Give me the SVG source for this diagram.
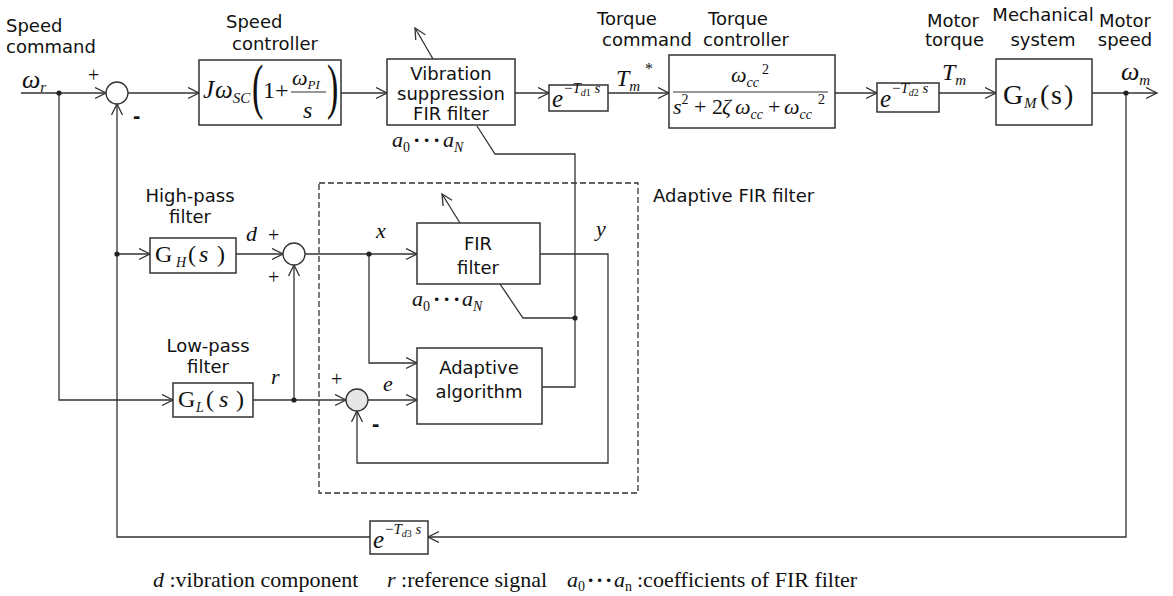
<svg xmlns="http://www.w3.org/2000/svg" width="1173" height="596" viewBox="0 0 1173 596">
<defs>
<style>
.box{fill:#fff;stroke:#333;stroke-width:1.5}
.ln{fill:none;stroke:#333;stroke-width:1.3}
.arr{marker-end:url(#ah)}
.dot{fill:#222}
.lbl{font-family:"DejaVu Sans",sans-serif;font-size:18px;fill:#111}
.c{text-anchor:middle}
.m{font-family:"Liberation Serif",serif;font-style:italic;fill:#111}
.r{font-family:"Liberation Serif",serif;font-style:normal;fill:#111}
.b{font-weight:bold;font-style:normal}
.sg{font-family:"Liberation Sans",sans-serif;font-weight:bold;font-size:22px;fill:#111}
</style>
<marker id="ah" markerWidth="14" markerHeight="14" refX="11" refY="6" orient="auto" markerUnits="userSpaceOnUse">
<path d="M0,0.5 L11,6 L0,11.5" fill="none" stroke="#333" stroke-width="1.3"/>
</marker>
</defs>
<rect width="1173" height="596" fill="#fff"/>

<g id="connectors">
<path class="ln arr" d="M21,93 H106"/>
<path class="ln arr" d="M128,93 H199"/>
<path class="ln arr" d="M341,93 H387"/>
<path class="ln arr" d="M515,93 H549"/>
<path class="ln arr" d="M608,93 H669"/>
<path class="ln arr" d="M835,93 H877"/>
<path class="ln arr" d="M939,93 H996"/>
<path class="ln arr" d="M1092,93 H1157"/>
<path class="ln arr" d="M1126,93 V537 H428"/>
<path class="ln arr" d="M370,537 H117 V104"/>
<path class="ln arr" d="M117,254 H150"/>
<path class="ln arr" d="M236,254 H283"/>
<path class="ln arr" d="M305,254 H417"/>
<path class="ln arr" d="M369,254 V363 H417"/>
<path class="ln arr" d="M59,93 V400 H173"/>
<path class="ln arr" d="M253,400 H346"/>
<path class="ln arr" d="M294,400 V265"/>
<path class="ln arr" d="M368,400 H417"/>
<path class="ln arr" d="M540,254 H608 V463 H357 V411"/>
<path class="ln" d="M542,387 H575 V154 H495 L477,126"/>
<path class="ln" d="M575,318 H523 L500,284"/>
<path class="ln arr" d="M433,59 L415,28"/>
<path class="ln arr" d="M460,223 L442,194"/>
<circle class="dot" cx="59" cy="93" r="2.6"/>
<circle class="dot" cx="1126" cy="93" r="2.6"/>
<circle class="dot" cx="117" cy="254" r="2.6"/>
<circle class="dot" cx="369" cy="254" r="2.6"/>
<circle class="dot" cx="294" cy="400" r="2.6"/>
<circle class="dot" cx="575" cy="318" r="2.6"/>
</g>

<g id="adaptive-frame">
<rect x="319" y="183" width="319" height="310" fill="none" stroke="#333" stroke-width="1.3" stroke-dasharray="6,3"/>
<text class="lbl" x="653" y="202">Adaptive FIR filter</text>
</g>

<g id="input">
<text class="lbl" x="6" y="32">Speed</text>
<text class="lbl" x="6" y="53">command</text>
<text class="m" x="22" y="88" font-size="26">ω<tspan font-size="15" dy="4">r</tspan></text>
</g>

<g id="sum1">
<circle cx="117" cy="93" r="11" fill="#fff" stroke="#333" stroke-width="1.3"/>
<text class="r" x="88" y="82" font-size="20">+</text>
<text class="sg" x="133" y="123">-</text>
</g>

<g id="speed-controller">
<text class="lbl" x="226" y="28">Speed</text>
<text class="lbl" x="232" y="50">controller</text>
<rect class="box" x="199" y="60" width="142" height="65"/>
<text class="m" x="203" y="98" font-size="25">J</text>
<text class="m" x="215" y="98" font-size="25">ω<tspan font-size="15" dy="5">SC</tspan></text>
<text class="r" font-size="34" transform="translate(252,107) scale(1,1.8)">(</text>
<text class="r" x="263" y="98" font-size="24">1</text>
<text class="r" x="275" y="98" font-size="24">+</text>
<text class="m" x="292" y="85" font-size="22">ω<tspan font-size="13" dy="4">PI</tspan></text>
<line x1="291" y1="92" x2="326" y2="92" stroke="#333" stroke-width="1.2"/>
<text class="m" x="303" y="118" font-size="24">s</text>
<text class="r" font-size="34" transform="translate(327,107) scale(1,1.8)">)</text>
</g>

<g id="vibration-filter">
<rect class="box" x="387" y="59" width="128" height="66"/>
<text class="lbl c" x="451" y="80" font-size="17">Vibration</text>
<text class="lbl c" x="451" y="100" font-size="17">suppression</text>
<text class="lbl c" x="451" y="120" font-size="17">FIR filter</text>
<text class="m" x="392" y="147" font-size="22">a<tspan class="r" font-size="14" dy="5">0</tspan><tspan class="r b" dy="-5" x="413">·</tspan><tspan class="r b" x="423">·</tspan><tspan class="r b" x="433">·</tspan><tspan x="443">a</tspan><tspan font-size="14" dy="5">N</tspan></text>
</g>

<g id="delay1">
<rect class="box" x="549" y="85" width="59" height="26"/>
<text class="m" x="552" y="107" font-size="25">e</text>
<text class="m" x="564" y="93" font-size="15"><tspan class="r">−</tspan>T<tspan font-size="10" dy="3">d</tspan><tspan class="r" font-size="10">1</tspan><tspan dy="-3"> s</tspan></text>
</g>

<g id="torque-command">
<text class="lbl" x="597" y="25">Torque</text>
<text class="lbl" x="602" y="46">command</text>
<text class="m" x="616" y="86" font-size="24">T<tspan font-size="15" dy="5">m</tspan></text>
<text class="r" x="645" y="74" font-size="16">*</text>
</g>

<g id="torque-controller">
<text class="lbl" x="708" y="25">Torque</text>
<text class="lbl" x="703" y="46">controller</text>
<rect class="box" x="669" y="55" width="166" height="73"/>
<text class="m" x="731" y="82" font-size="22">ω<tspan font-size="14" dy="5">cc</tspan></text>
<text class="r" x="762" y="74" font-size="14">2</text>
<line x1="673" y1="92" x2="828" y2="92" stroke="#333" stroke-width="1.2"/>
<text class="m" y="114" font-size="22"><tspan x="673">s</tspan><tspan class="r" font-size="14" dy="-10">2</tspan><tspan class="r" x="694" dy="10">+ 2</tspan><tspan x="722">ζ</tspan><tspan x="735">ω</tspan><tspan font-size="14" dy="5">cc</tspan><tspan class="r" x="768" dy="-5">+</tspan><tspan x="784">ω</tspan><tspan font-size="14" dy="5">cc</tspan><tspan class="r" x="818" font-size="14" dy="-15">2</tspan></text>
</g>

<g id="delay2">
<rect class="box" x="877" y="83" width="62" height="29"/>
<text class="m" x="880" y="107" font-size="25">e</text>
<text class="m" x="892" y="93" font-size="15"><tspan class="r">−</tspan>T<tspan font-size="10" dy="3">d</tspan><tspan class="r" font-size="10">2</tspan><tspan dy="-3"> s</tspan></text>
</g>

<g id="motor-torque">
<text class="lbl" x="927" y="27">Motor</text>
<text class="lbl" x="925" y="46">torque</text>
<text class="m" x="942" y="80" font-size="24">T<tspan font-size="15" dy="5">m</tspan></text>
</g>

<g id="mechanical-system">
<text class="lbl c" x="1043" y="21">Mechanical</text>
<text class="lbl c" x="1043" y="46">system</text>
<rect class="box" x="996" y="59" width="96" height="66"/>
<text class="r" x="1003" y="104" font-size="28">G<tspan class="m" font-size="15" dy="4" x="1024">M</tspan><tspan dy="-4" x="1040">(</tspan><tspan x="1051">s</tspan><tspan x="1064">)</tspan></text>
</g>

<g id="motor-speed">
<text class="lbl c" x="1125" y="27">Motor</text>
<text class="lbl c" x="1125" y="46">speed</text>
<text class="m" x="1121" y="80" font-size="26">ω<tspan font-size="15" dy="5">m</tspan></text>
</g>

<g id="delay3">
<rect class="box" x="370" y="521" width="58" height="33"/>
<text class="m" x="373" y="548" font-size="25">e</text>
<text class="m" x="385" y="534" font-size="15"><tspan class="r">−</tspan>T<tspan font-size="10" dy="3">d</tspan><tspan class="r" font-size="10">3</tspan><tspan dy="-3"> s</tspan></text>
</g>

<g id="high-pass">
<text class="lbl c" x="190" y="202">High-pass</text>
<text class="lbl c" x="190" y="223">filter</text>
<rect class="box" x="150" y="238" width="86" height="35"/>
<text class="r" x="155" y="262" font-size="24">G<tspan class="m" font-size="14" dy="5" x="176">H</tspan><tspan dy="-5" x="188">(</tspan><tspan class="m" x="199">s</tspan><tspan x="217">)</tspan></text>
</g>

<g id="low-pass">
<text class="lbl c" x="208" y="352">Low-pass</text>
<text class="lbl c" x="208" y="373">filter</text>
<rect class="box" x="173" y="383" width="80" height="34"/>
<text class="r" x="178" y="407" font-size="24">G<tspan class="m" font-size="14" dy="5" x="196">L</tspan><tspan dy="-5" x="206">(</tspan><tspan class="m" x="219">s</tspan><tspan x="236">)</tspan></text>
</g>

<g id="sum2">
<circle cx="294" cy="254" r="11" fill="#fff" stroke="#333" stroke-width="1.3"/>
<text class="m" x="246" y="241" font-size="22">d</text>
<text class="r" x="268" y="242" font-size="20">+</text>
<text class="r" x="268" y="284" font-size="20">+</text>
<text class="m" x="271" y="384" font-size="22">r</text>
</g>

<g id="sum3">
<circle cx="357" cy="400" r="11" fill="#e6e6e6" stroke="#333" stroke-width="1.3"/>
<text class="r" x="331" y="386" font-size="20">+</text>
<text class="sg" x="372" y="431">-</text>
<text class="m" x="383" y="391" font-size="22">e</text>
</g>

<g id="fir-filter">
<text class="m" x="376" y="238" font-size="22">x</text>
<rect class="box" x="417" y="223" width="123" height="61"/>
<text class="lbl c" x="478" y="250">FIR</text>
<text class="lbl c" x="478" y="274">filter</text>
<text class="m" x="412" y="306" font-size="22">a<tspan class="r" font-size="14" dy="5">0</tspan><tspan class="r b" dy="-5" x="433">·</tspan><tspan class="r b" x="443">·</tspan><tspan class="r b" x="453">·</tspan><tspan x="462">a</tspan><tspan font-size="14" dy="5">N</tspan></text>
<text class="m" x="596" y="236" font-size="22">y</text>
</g>

<g id="adaptive-algorithm">
<rect class="box" x="417" y="348" width="125" height="76"/>
<text class="lbl c" x="479" y="374">Adaptive</text>
<text class="lbl c" x="479" y="398">algorithm</text>
</g>

<g id="legend">
<text class="r" x="153" y="587" font-size="22"><tspan class="m">d</tspan> :vibration component</text>
<text class="r" x="387" y="587" font-size="22"><tspan class="m">r</tspan> :reference signal</text>
<text class="m" x="567" y="587" font-size="22">a<tspan class="r" font-size="14" dy="4">0</tspan><tspan class="r b" dy="-4" x="587">·</tspan><tspan class="r b" x="596">·</tspan><tspan class="r b" x="605">·</tspan><tspan x="614">a</tspan><tspan class="r" font-size="14" dy="4">n</tspan><tspan class="r" dy="-4" x="637">:coefficients of FIR filter</tspan></text>
</g>
</svg>
